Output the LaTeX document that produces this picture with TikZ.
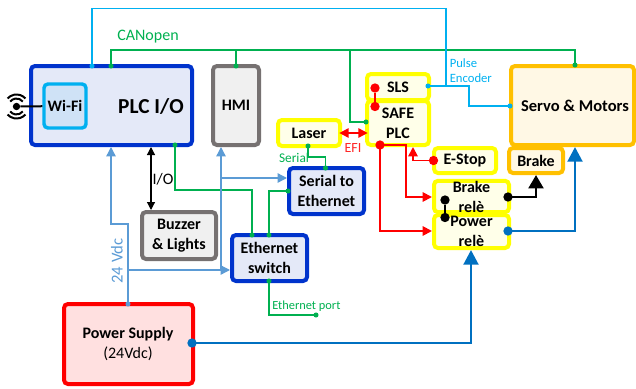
\documentclass[tikz,border=0pt]{standalone}
\usepackage{fontspec}
\setmainfont{Carlito}
\usepackage{xcolor}
\usetikzlibrary{arrows.meta, positioning, calc}
\definecolor{plcblue}{HTML}{0033CC}
\definecolor{plcfill}{HTML}{E4E9F8}
\definecolor{wifiblue}{HTML}{00B0F0}
\definecolor{wififill}{HTML}{CFE2F6}
\definecolor{hmigray}{HTML}{767171}
\definecolor{hmifill}{HTML}{F0F0F0}
\definecolor{safeyellow}{HTML}{FFFF00}
\definecolor{safefill}{HTML}{FFFFE9}
\definecolor{servoorange}{HTML}{FFC000}
\definecolor{servofill}{HTML}{FFF8E5}
\definecolor{canopen}{HTML}{00B050}
\definecolor{powerblue}{HTML}{0070C0}
\definecolor{vdcblue}{HTML}{5B9BD5}
\tikzset{
  box/.style={draw,rounded corners=3,align=center,inner sep=0pt,font=\fontsize{12}{15}\selectfont\bfseries},
  boxsize/.style 2 args={minimum width=#1*0.75pt,minimum height=#2*0.75pt},
  plcbox/.style={box,draw=plcblue,fill=plcfill,line width=3pt},
  wifibox/.style={box,draw=wifiblue,fill=wififill,line width=2.6pt},
  graybox/.style={box,draw=hmigray,fill=hmifill,line width=3pt},
  safebox/.style={box,draw=safeyellow,fill=safefill,line width=3pt},
  servobox/.style={box,draw=servoorange,fill=servofill,line width=3pt},
  powerbox/.style={box,draw=red,fill=red!12,line width=3pt},
  dot/.style={circle,fill=#1,inner sep=0pt,minimum size=3.8pt},
  bigdot/.style={circle,fill=#1,inner sep=0pt,minimum size=7pt},
  canline/.style={canopen,line width=1.3pt},
  pulseline/.style={wifiblue,line width=1.3pt},
  vdcline/.style={vdcblue,line width=1pt,-{Triangle[length=7pt,width=7pt]}},
  safeline/.style={red,line width=1.4pt},
  redarrow/.style={safeline,-{Triangle[length=7pt,width=7pt]}},
  powerline/.style={powerblue,line width=2.2pt,-{Triangle[length=11pt,width=11pt]}},
  lab/.style={inner sep=0pt,font=\fontsize{#1}{11.5}\selectfont}
}
\begin{document}
\begin{tikzpicture}[x=0.75pt,y=-0.75pt]
  \useasboundingbox (0,0) rectangle (636,389);

  % Boxes
  \node[plcbox,boxsize={161}{79}] (plc) at (111.5,105.5) {};
  \node[inner sep=0pt,font=\fontsize{16}{18}\selectfont\bfseries] (plctext) at (151,106) {PLC I/O};
  \node[wifibox,boxsize={42}{44}] (wifi) at (65,106) {Wi-Fi};
  \node[graybox,boxsize={46}{79}] (hmi) at (236,105.5) {HMI};
  \node[safebox,boxsize={62}{26}] (laser) at (309,133) {Laser};
  \node[safebox,boxsize={62}{26}] (sls) at (398,87) {SLS};
  \node[safebox,boxsize={62}{44}] (safe) at (398,123) {SAFE\\PLC};
  \node[safebox,boxsize={62}{25}] (estop) at (465,160.5) {E-Stop};
  \node[safebox,boxsize={75}{31}] (brakerele) at (471.5,196.5) {Brake\\relè};
  \node[safebox,boxsize={75}{33}] (powerrele) at (471.5,231.5) {Power\\relè};
  \node[servobox,boxsize={123}{79}] (servo) at (572.5,105.5) {};
  \node[inner sep=0pt,font=\fontsize{12.4}{15}\selectfont\bfseries] (servotext) at (575,105.5) {Servo \& Motors};
  \node[servobox,boxsize={54}{25}] (brake) at (536,160.5) {Brake};
  \node[plcbox,boxsize={75}{46}] (serial) at (326.5,191) {Serial to\\Ethernet};
  \node[plcbox,boxsize={75}{46}] (switch) at (269.5,258) {Ethernet\\switch};
  \node[graybox,boxsize={74}{47}] (buzzer) at (179,235.5) {Buzzer\\\& Lights};
  \node[powerbox,boxsize={129}{80}] (supply) at (128.5,344) {};
  \node[align=center,inner sep=0pt,font=\fontsize{12}{15}\selectfont] (supplytext) at (128,344) {\textbf{Power Supply}\\(24Vdc)};

  % Antenna
  \node[bigdot=black,minimum size=5.5pt] (antenna) at (16.5,106.5) {};
  \draw[black,line width=1.5pt] (antenna) -- (wifi);
  \draw[black,line width=1.5pt] (antenna.center) ++(-38:8) arc (-38:-142:8);
  \draw[black,line width=1.5pt] (antenna.center) ++(38:8) arc (38:142:8);
  \draw[black,line width=1.5pt] (antenna.center) ++(-42:12) arc (-42:-138:12);
  \draw[black,line width=1.5pt] (antenna.center) ++(42:12) arc (42:138:12);

  % CANopen bus
  \node[dot=canopen] (plccan) at (111,66) {};
  \node[dot=canopen] (hmican) at (236,66) {};
  \node[dot=canopen] (servocan) at (575,65) {};
  \node[dot=canopen] (safecan) at (366,122) {};
  \coordinate (canbranch) at (350,50);
  \draw[canline] (plccan.center) |- (canbranch) -| (servocan.center);
  \draw[canline] (hmican.center) -- (hmican.center |- canbranch);
  \draw[canline] (canbranch) |- (safecan.center);

  % Pulse encoder
  \node[dot=wifiblue] (plcpulse) at (92,66) {};
  \node[dot=wifiblue] (slspulse) at (428,86) {};
  \node[dot=wifiblue] (servopulse) at (510,106) {};
  \coordinate (pulsejoin) at (446,86);
  \coordinate (pulsetop) at (446,8.5);
  \coordinate (pulsestep) at (469,86);
  \draw[pulseline] (plcpulse.center) |- (pulsetop) -- (pulsejoin);
  \draw[pulseline] (slspulse.center) -- (pulsestep) |- (servopulse.center);

  % Ethernet wiring
  \node[dot=canopen] (plceth) at (175,145) {};
  \node[dot=canopen] (swplc) at (252,235) {};
  \node[dot=canopen] (swser) at (269,235) {};
  \node[dot=canopen] (serleft) at (288,191) {};
  \node[dot=canopen] (lasers) at (308,146) {};
  \node[dot=canopen] (serialtop) at (325.5,168) {};
  \node[dot=canopen] (swbot) at (269,281) {};
  \node[dot=canopen] (ethport) at (316,315) {};
  \coordinate (ethmid) at (252,190);
  \coordinate (serstep) at (308,157);
  \draw[canline] (plceth.center) |- (ethmid) -- (swplc.center);
  \draw[canline] (serleft.center) -| (swser.center);
  \draw[canline] (lasers.center) -- (serstep) -| (serialtop.center);
  \draw[canline,line width=1pt] (swbot.center) |- (ethport.center);

  % 24 Vdc supply
  \node[dot=vdcblue] (supplyvdc) at (128,304) {};
  \coordinate (vdcstep) at (128,224);
  \coordinate (vdcjog) at (111,224);
  \coordinate (vdcbus) at (128,270);
  \coordinate (hmibus) at (221,270);
  \coordinate (hmiser) at (221,178);
  \draw[vdcline] (supplyvdc.center) -- (vdcstep) -- (vdcjog) -- (plc.south -| vdcjog);
  \draw[vdcline] (vdcbus) -- (switch.west |- vdcbus);
  \draw[vdcline] (hmibus) -- (hmi.south -| hmibus);
  \draw[vdcline] (hmiser) -- (serial.west |- hmiser);

  % Buzzer and lights
  \draw[black,line width=0.9pt,{Triangle[length=6pt,width=6pt]}-{Triangle[length=6pt,width=6pt]}] (plc.south -| 151,0) -- (buzzer.north -| 151,0);

  % Safety wiring
  \node[bigdot=red] (slsred) at (375,88) {};
  \node[bigdot=red] (safetop) at (375,106.5) {};
  \node[bigdot=red] (safebot) at (380,145) {};
  \node[bigdot=red] (estopred) at (433.5,160.5) {};
  \coordinate (safestep) at (406,145);
  \coordinate (estopstep) at (413,160.5);
  \draw[safeline,line width=1.5pt] (slsred) -- (safetop);
  \draw[redarrow,shorten <=-2pt,shorten >=-2pt,{Triangle[length=7pt,width=7pt]}-{Triangle[length=7pt,width=7pt]}] (laser) -- (safe.west |- laser);
  \draw[redarrow] (safebot.center) -- (safestep) |- (brakerele.west |- 0,197);
  \draw[redarrow] (safebot.center) |- (powerrele.west |- 0,231);
  \draw[redarrow] (estopred.center) -- (estopstep) -- (estopstep |- safe.south);

  % Brake and power relays
  \node[bigdot=black] (brakeup) at (445,200) {};
  \node[bigdot=black] (brakedown) at (445,217.5) {};
  \node[bigdot=black] (brakeout) at (508,197) {};
  \node[bigdot=powerblue] (powerout) at (508,231) {};
  \node[bigdot=powerblue] (supplyout) at (192,343) {};
  \draw[black,line width=1.8pt] (brakeup) -- (brakedown);
  \draw[black,line width=2.2pt,-{Triangle[length=10pt,width=11pt]}] (brakeout.center) -| (brake.south -| 536,0);
  \draw[powerline] (powerout.center) -| (servo.south -| 575,0);
  \draw[powerline] (supplyout.center) -| (powerrele.south -| 471,0);

  % Labels
  \node[lab=12,canopen] (canlabel) at (148,37) {CANopen};
  \node[lab=9.5,wifiblue,align=left,anchor=west] (pulselabel) at (449.5,70.5) {Pulse\\Encoder};
  \node[lab=10,canopen] (seriallabel) at (294,158) {Serial};
  \node[lab=10.5,red!85!white] (efilabel) at (353,148) {EFI};
  \node[lab=12] (iolabel) at (163,179) {I/O};
  \node[lab=12.5,vdcblue,rotate=90] (vdclabel) at (117,261) {24 Vdc};
  \node[lab=9.3,canopen,anchor=west] (portlabel) at (272,306.5) {Ethernet port};
\end{tikzpicture}
\end{document}
